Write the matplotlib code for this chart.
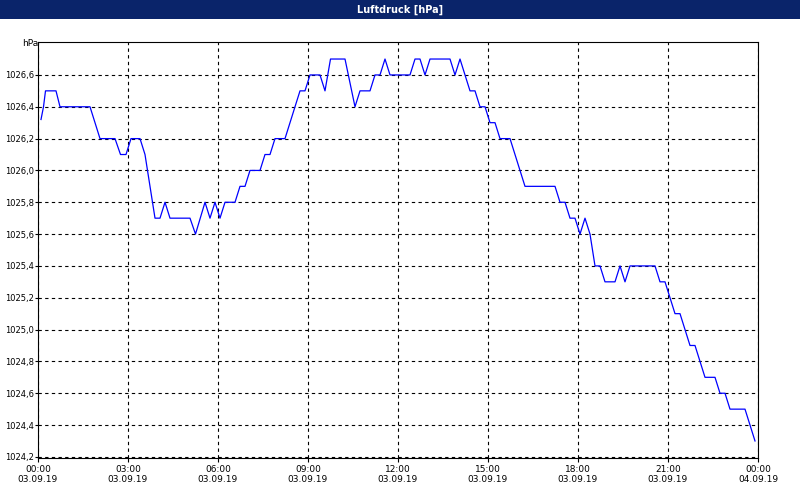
import matplotlib
matplotlib.use("Agg")
import matplotlib.pyplot as plt
from matplotlib.patches import Rectangle

# Minuten seit Mitternacht und Luftdruck (hPa)
minuten = [6, 11, 15, 36, 44, 104, 124, 154, 165, 176, 186, 204, 214, 234, 244, 254, 264,
           304, 315, 334, 344, 354, 364, 374, 394, 404, 414, 424, 444, 454, 464, 474, 494,
           524, 534, 544, 564, 574, 585, 614, 634, 644, 664, 674, 684, 694, 704, 744, 754,
           764, 774, 784, 824, 834, 844, 864, 874, 884, 894, 904, 914, 924, 944, 974, 1034,
           1044, 1054, 1064, 1074, 1084, 1094, 1104, 1114, 1124, 1134, 1154, 1164, 1174, 1184,
           1234, 1244, 1254, 1274, 1284, 1304, 1314, 1334, 1354, 1364, 1374, 1384, 1414, 1434]
druck = [1026.32, 1026.4, 1026.5, 1026.5, 1026.4, 1026.4, 1026.2, 1026.2, 1026.1, 1026.1,
         1026.2, 1026.2, 1026.1, 1025.7, 1025.7, 1025.8, 1025.7, 1025.7, 1025.6, 1025.8,
         1025.7, 1025.8, 1025.7, 1025.8, 1025.8, 1025.9, 1025.9, 1026.0, 1026.0, 1026.1,
         1026.1, 1026.2, 1026.2, 1026.5, 1026.5, 1026.6, 1026.6, 1026.5, 1026.7, 1026.7,
         1026.4, 1026.5, 1026.5, 1026.6, 1026.6, 1026.7, 1026.6, 1026.6, 1026.7, 1026.7,
         1026.6, 1026.7, 1026.7, 1026.6, 1026.7, 1026.5, 1026.5, 1026.4, 1026.4, 1026.3,
         1026.3, 1026.2, 1026.2, 1025.9, 1025.9, 1025.8, 1025.8, 1025.7, 1025.7, 1025.6,
         1025.7, 1025.6, 1025.4, 1025.4, 1025.3, 1025.3, 1025.4, 1025.3, 1025.4, 1025.4,
         1025.3, 1025.3, 1025.1, 1025.1, 1024.9, 1024.9, 1024.7, 1024.7, 1024.6, 1024.6,
         1024.5, 1024.5, 1024.3]

x_ticks = list(range(0, 1441, 180))
x_labels = ["00:00\n03.09.19", "03:00\n03.09.19", "06:00\n03.09.19", "09:00\n03.09.19",
            "12:00\n03.09.19", "15:00\n03.09.19", "18:00\n03.09.19", "21:00\n03.09.19",
            "00:00\n04.09.19"]
y_ticks = [1024.2, 1024.4, 1024.6, 1024.8, 1025.0, 1025.2, 1025.4, 1025.6, 1025.8,
           1026.0, 1026.2, 1026.4, 1026.6]

plt.rcParams['font.family'] = 'DejaVu Sans'
fig = plt.figure(figsize=(8, 5), dpi=100)
fig.patch.set_facecolor('white')

# Titelleiste
fig.patches.append(Rectangle((0, 1 - 19/500), 1, 19/500, transform=fig.transFigure,
                             facecolor='#0a246a', edgecolor='none'))
fig.text(0.5, 1 - 9.5/500, 'Luftdruck [hPa]', color='white', fontsize=7, fontweight='bold',
         ha='center', va='center')
fig.text(22/800, 1 - 44/500, 'hPa', fontsize=6.5, ha='left', va='center')

ax = fig.add_axes([38/800, 42/500, 720/800, 416/500])
ax.plot(minuten, druck, color='blue', linewidth=0.9)
ax.set_xlim(0, 1440)
ax.set_ylim(1024.193, 1026.807)
ax.set_xticks(x_ticks)
ax.set_xticklabels(x_labels, fontsize=6.5)
ax.set_yticks(y_ticks)
ax.set_yticklabels([f"{v:.1f}".replace('.', ',') for v in y_ticks], fontsize=6)
ax.tick_params(axis='y', length=2, width=0.8, pad=1)
ax.tick_params(axis='x', length=3, width=0.8, pad=2)
ax.grid(True, color='black', linestyle=(0, (3, 3)), linewidth=0.8)
for s in ax.spines.values():
    s.set_linewidth(0.8)

fig.savefig('out.png', dpi=100)
